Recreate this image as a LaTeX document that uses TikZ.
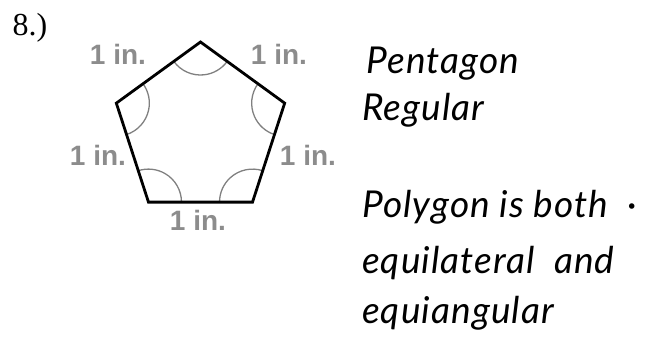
\documentclass[tikz,border=0pt]{standalone}
\usepackage{fontspec}
\usetikzlibrary{calc}
\setmainfont{Liberation Serif}
\newfontfamily\lblfont{Liberation Sans}
\newfontfamily\handfont[LetterSpace=3]{Lato}
\begin{document}
\begin{tikzpicture}[x=1pt,y=1pt,
  lbl/.style={font=\lblfont\bfseries\fontsize{28}{28}\selectfont, text=black!45, inner sep=0pt},
  hand/.style={font=\handfont\itshape\fontsize{37}{37}\selectfont, anchor=base west, inner sep=0pt},
  side/.style={line width=2.8pt, line join=miter},
  anglearc/.style={draw=black!50, line width=1.3pt}]
\useasboundingbox (0,0) rectangle (656,341);
\coordinate (c) at (200.5,210.5);
\foreach \a/\n in {90/T,18/R,-54/BR,-126/BL,162/L}
  \coordinate (\n) at ($(c)+(\a:88.5)$);
\foreach \a/\n in {90/T,18/R,-54/BR,-126/BL,162/L}
  \draw[anglearc] ($(\n)+(\a+126:33)$) arc[start angle=\a+126, end angle=\a+234, radius=33];
\draw[side] (T) -- (R) -- (BR) -- (BL) -- (L) -- cycle;
\node[lbl] (l1) at (118,287) {1 in.};
\node[lbl] (l2) at (279,287) {1 in.};
\node[lbl] (l3) at (98,186) {1 in.};
\node[lbl] (l4) at (308,186) {1 in.};
\node[lbl] (l5) at (198,121) {1 in.};
\node[font=\fontsize{32}{32}\selectfont, inner sep=0pt] (num) at (30,313) {8.)};
\node[hand] (h1) at (366,268) {Pentagon};
\node[hand] (h2) at (362,221) {Regular};
\node[hand] (h3) at (362,124) {Polygon is both\ \ ·};
\node[hand] (h4) at (362,68) {equilateral\ \ and};
\node[hand] (h5) at (362,18) {equiangular};
\end{tikzpicture}
\end{document}
